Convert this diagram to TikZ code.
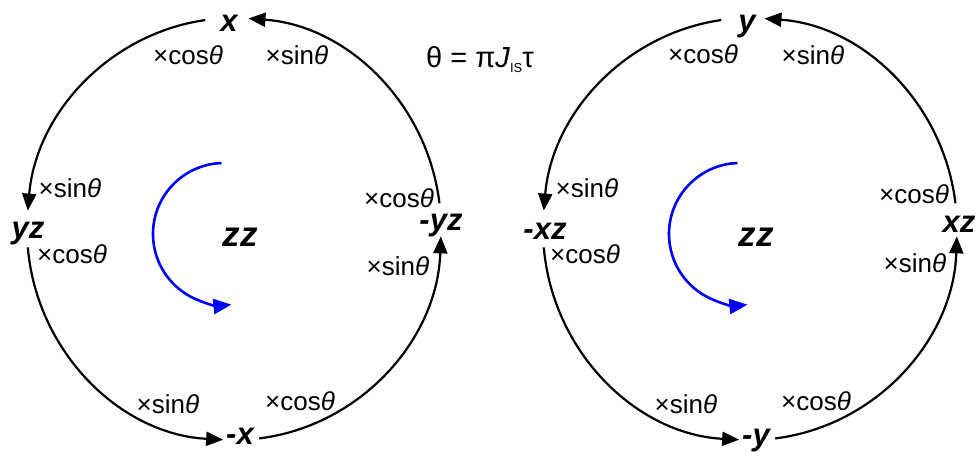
\documentclass[tikz,border=0pt]{standalone}
\usepackage{fontspec}
\setmainfont{Liberation Sans}
\usetikzlibrary{arrows.meta,calc}
\begin{document}
\begin{tikzpicture}[x=1pt,y=1pt,
  ring/.style={line width=2.2pt, -{Triangle[length=17pt,width=14pt]}},
  spin/.style={line width=2.6pt, blue, -{Triangle[length=18pt,width=15pt]}},
  term/.style={font=\fontsize{31}{31}\selectfont\bfseries\itshape, inner sep=0pt, anchor=base},
  big/.style={font=\fontsize{35}{35}\selectfont\bfseries\itshape, inner sep=0pt, anchor=base},
  coef/.style={font=\fontsize{26}{26}\selectfont, inner sep=0pt, anchor=base},
]
\useasboundingbox (0,0) rectangle (980,451);
\newcommand{\cs}{×cos\textit{θ}}
\newcommand{\sn}{×sin\textit{θ}}
% ---------- left circle ----------
\coordinate (cL) at (234,222);
\coordinate (bL) at (224,217);
\node[term] (x)   at (229,419) {x};
\node[term] (mx)  at (240,7)   {-x};
\node[term] (yz)  at (28,213)  {yz};
\node[term] (myz) at (441,221) {-yz};
\node[big]  (zzL) at (240,205) {zz};
\node[coef] (cL1) at (188,386) {\cs};
\node[coef] (sL1) at (297,386) {\sn};
\node[coef] (sL2) at (70,254)  {\sn};
\node[coef] (cL2) at (72,188)  {\cs};
\node[coef] (cL3) at (399,244) {\cs};
\node[coef] (sL3) at (398,176) {\sn};
\node[coef] (sL4) at (168,38)  {\sn};
\node[coef] (cL4) at (300,41)  {\cs};
\draw[ring] ($(cL)+(7:207pt and 211pt)$)   arc[start angle=7,  end angle=86,  x radius=207pt, y radius=211pt];
\draw[ring] ($(cL)+(98:207pt and 211pt)$)  arc[start angle=98, end angle=175, x radius=207pt, y radius=211pt];
\draw[ring] ($(cL)+(185:207pt and 211pt)$) arc[start angle=185,end angle=267, x radius=207pt, y radius=211pt];
\draw[ring] ($(cL)+(277:207pt and 211pt)$) arc[start angle=277,end angle=358, x radius=207pt, y radius=211pt];
\draw[spin] ($(bL)+(92:71pt)$) arc[start angle=92, end angle=276, radius=71pt];
% ---------- right circle ----------
\coordinate (cR) at (750,222);
\coordinate (bR) at (740,217);
\node[term] (y)   at (747,419) {y};
\node[term] (my)  at (756,6)   {-y};
\node[term] (mxz) at (545,212) {-xz};
\node[term] (xz)  at (959,219) {xz};
\node[big]  (zzR) at (756,205) {zz};
\node[coef] (cR1) at (703,388) {\cs};
\node[coef] (sR1) at (813,386) {\sn};
\node[coef] (sR2) at (587,254) {\sn};
\node[coef] (cR2) at (585,188) {\cs};
\node[coef] (cR3) at (914,248) {\cs};
\node[coef] (sR3) at (915,179) {\sn};
\node[coef] (sR4) at (686,38)  {\sn};
\node[coef] (cR4) at (816,41)  {\cs};
\draw[ring] ($(cR)+(7:207pt and 211pt)$)   arc[start angle=7,  end angle=86,  x radius=207pt, y radius=211pt];
\draw[ring] ($(cR)+(98:207pt and 211pt)$)  arc[start angle=98, end angle=175, x radius=207pt, y radius=211pt];
\draw[ring] ($(cR)+(185:207pt and 211pt)$) arc[start angle=185,end angle=267, x radius=207pt, y radius=211pt];
\draw[ring] ($(cR)+(277:207pt and 211pt)$) arc[start angle=277,end angle=358, x radius=207pt, y radius=211pt];
\draw[spin] ($(bR)+(92:71pt)$) arc[start angle=92, end angle=276, radius=71pt];
% ---------- formula ----------
\node[font=\fontsize{29}{29}\selectfont, inner sep=0pt, anchor=base] (eq) at (480,384)
  {θ = π\textit{J}\raisebox{-0.35ex}{\fontsize{13}{13}\selectfont IS}τ};
\end{tikzpicture}
\end{document}
